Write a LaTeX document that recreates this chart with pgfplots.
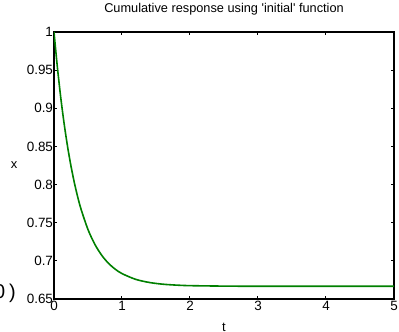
\documentclass[border=0pt]{standalone}
\usepackage{pgfplots}
\pgfplotsset{compat=1.18}
\usepackage{fontspec}
\setmainfont{Liberation Sans}
\definecolor{mgreen}{RGB}{0,128,0}
\begin{document}
\begin{tikzpicture}
\clip (-54bp,-33bp) rectangle (345bp,299bp);
\begin{axis}[
  at={(0,0)}, anchor=south west,
  scale only axis, width=340bp, height=267bp,
  xmin=0, xmax=5, ymin=0.65, ymax=1,
  xtick={0,1,2,3,4,5},
  ytick={0.65,0.7,0.75,0.8,0.85,0.9,0.95,1},
  yticklabel style={/pgf/number format/fixed, /pgf/number format/precision=2},
  /pgf/number format/assume math mode=true,
  tick align=inside, tick pos=both, major tick length=3bp,
  axis line style={line width=1.3bp},
  every tick/.style={black, line width=1bp},
  tick label style={font=\fontsize{13.5}{14}\selectfont},
  xticklabel style={yshift=1bp},
  yticklabel style={xshift=2.5bp},
  title={Cumulative response using \textquotesingle initial\textquotesingle\ function},
  title style={font=\fontsize{12.8}{14}\selectfont, at={(axis description cs:0.5,1)}, anchor=base, yshift=14bp},
  xlabel={t}, ylabel={x},
  xlabel style={font=\fontsize{13}{14}\selectfont, at={(axis description cs:0.5,0)}, anchor=center, yshift=-28bp},
  ylabel style={font=\fontsize{13}{14}\selectfont, at={(axis description cs:0,0.5)}, anchor=center, rotate=-90, xshift=-40bp},
]
\addplot[mgreen, line width=1.6bp, smooth] coordinates {
(0,1.0) (0.05,0.9536) (0.1,0.9136) (0.15,0.8792) (0.2,0.8496) (0.25,0.8241)
(0.3,0.8022) (0.35,0.7833) (0.4,0.7671) (0.5,0.7410) (0.6,0.7218) (0.7,0.7075)
(0.8,0.6969) (0.9,0.6891) (1.0,0.6833) (1.2,0.6758) (1.4,0.6717) (1.6,0.6694)
(1.8,0.6682) (2.0,0.6675) (2.5,0.6669) (3.0,0.6667) (4.0,0.6667) (5.0,0.6667)
};
\end{axis}
\node[anchor=base east, font=\fontsize{20}{22}\selectfont, inner sep=0pt] at (-38bp,1bp) {0\hspace{4bp})};
\end{tikzpicture}
\end{document}
